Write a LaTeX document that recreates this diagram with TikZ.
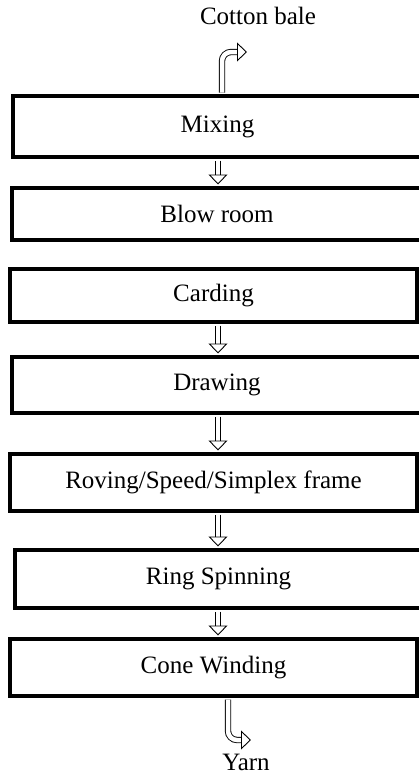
\documentclass[tikz,border=0pt]{standalone}
\usepackage{fontspec}
\setmainfont{Liberation Serif}
\usetikzlibrary{arrows.meta}

\begin{document}
\begin{tikzpicture}[x=1pt, y=-1pt,
	stage/.style={draw, line width=3.5pt, inner sep=0pt,
		font=\fontsize{25}{29}\selectfont},
	flow/.style={double, double distance=4.5pt, line width=0.9pt,
		-{Triangle[open, width=19pt, length=10pt, line width=0.9pt]}},
	label/.style={font=\fontsize{25}{29}\selectfont, inner sep=0pt, anchor=base}]
	\useasboundingbox (0,0) rectangle (418,774);
	\node [label] (0) at (258,24) {Cotton bale};
	\node [stage, minimum width=409pt, minimum height=61pt] (1) at (217.5,126.5) {Mixing};
	\node [stage, minimum width=410pt, minimum height=52pt] (2) at (217,214) {Blow room};
	\node [stage, minimum width=407pt, minimum height=53pt] (3) at (213.5,295.5) {Carding};
	\node [stage, minimum width=410pt, minimum height=56pt] (4) at (217,385) {Drawing};
	\node [stage, minimum width=407pt, minimum height=57pt] (5) at (213.5,482.5) {Roving/Speed/Simplex frame};
	\node [stage, minimum width=407pt, minimum height=58pt] (6) at (218.5,579) {Ring Spinning};
	\node [stage, minimum width=407pt, minimum height=57pt] (7) at (213.5,667.5) {Cone Winding};
	\node [label] (8) at (246,770) {Yarn};
	\coordinate (axis) at (218,0);
	\coordinate (in) at (247,52);
	\coordinate (out) at (251,740);
	% bale goes in at the top, yarn comes out at the bottom
	\draw [flow, rounded corners=9pt, shorten <=1.75pt]
	  ([xshift=4.5pt]1.north) |- (in);
	\draw [flow, rounded corners=9pt, shorten <=1.75pt]
	  ([xshift=14.5pt]7.south) |- (out);
	% straight arrows between stages
	\draw [flow, shorten <=1.75pt, shorten >=1.75pt]
	  (1.south -| axis) to (2.north -| axis);
	\draw [flow, shorten <=1.75pt, shorten >=1.75pt]
	  (3.south -| axis) to (4.north -| axis);
	\draw [flow, shorten <=1.75pt, shorten >=1.75pt]
	  (4.south -| axis) to (5.north -| axis);
	\draw [flow, shorten <=1.75pt, shorten >=1.75pt]
	  (5.south -| axis) to (6.north -| axis);
	\draw [flow, shorten <=1.75pt, shorten >=1.75pt]
	  (6.south -| axis) to (7.north -| axis);
\end{tikzpicture}
\end{document}
